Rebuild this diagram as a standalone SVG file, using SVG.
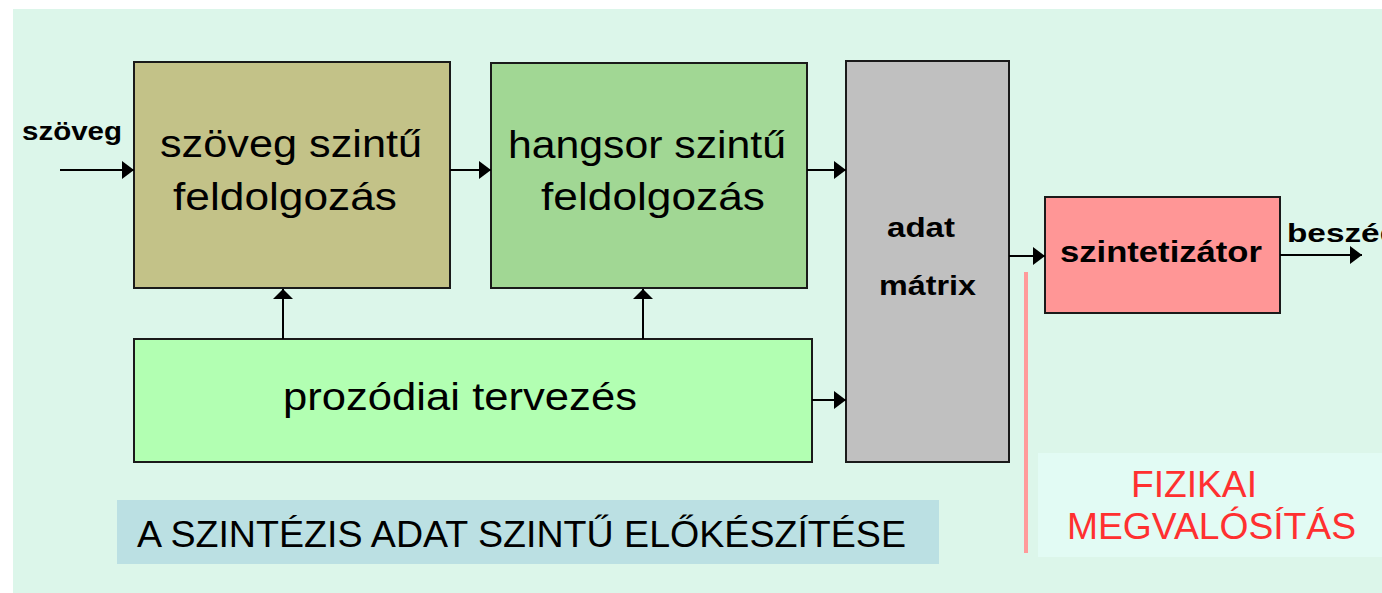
<svg xmlns="http://www.w3.org/2000/svg" width="1382" height="593" viewBox="0 0 1382 593">
<style>
.box{stroke:#1a1a1a;stroke-width:2}
.t{font-family:"Liberation Sans",Arial,sans-serif;fill:#000}
.big{font-size:38px}
.bold{font-weight:bold}
.conn{stroke:#000;stroke-width:2;fill:none}
.red{font-family:"Liberation Sans",Arial,sans-serif;font-size:36px;fill:#ff3030}
</style>
<defs>
<marker id="ah" viewBox="0 0 12 18" refX="12" refY="9" markerWidth="12" markerHeight="18" markerUnits="userSpaceOnUse" orient="auto">
<path d="M0,0 L12,9 L0,18 Z" fill="#000"/>
</marker>
<marker id="av" viewBox="0 0 10 20" refX="10" refY="10" markerWidth="10" markerHeight="20" markerUnits="userSpaceOnUse" orient="auto">
<path d="M0,0 L10,10 L0,20 Z" fill="#000"/>
</marker>
</defs>
<rect x="0" y="0" width="1382" height="593" fill="#ffffff"/>
<rect x="13" y="9" width="1369" height="584" fill="#dcf6ea"/>

<g id="caption">
<rect x="117" y="500" width="822" height="64" fill="#bbe0e3"/>
<text class="t" x="137" y="547" font-size="37" textLength="769" lengthAdjust="spacingAndGlyphs">A SZINTÉZIS ADAT SZINTŰ ELŐKÉSZÍTÉSE</text>
</g>

<g id="fizikai">
<rect x="1038" y="453" width="344" height="104" fill="#e2fbf4"/>
<line x1="1026" y1="272" x2="1026" y2="553" stroke="#ff9a9a" stroke-width="4"/>
<text class="red" x="1131" y="497" textLength="126" lengthAdjust="spacingAndGlyphs">FIZIKAI</text>
<text class="red" x="1067" y="539" textLength="289" lengthAdjust="spacingAndGlyphs">MEGVALÓSÍTÁS</text>
</g>

<g id="szoveg-szintu">
<rect class="box" x="134" y="62" width="316" height="226" fill="#c3c288"/>
<text class="t big" x="160" y="157" textLength="262" lengthAdjust="spacingAndGlyphs">szöveg szintű</text>
<text class="t big" x="173" y="210" textLength="224" lengthAdjust="spacingAndGlyphs">feldolgozás</text>
</g>

<g id="hangsor-szintu">
<rect class="box" x="491" y="63" width="316" height="225" fill="#a1d794"/>
<text class="t big" x="508" y="158" textLength="278" lengthAdjust="spacingAndGlyphs">hangsor szintű</text>
<text class="t big" x="541" y="210" textLength="224" lengthAdjust="spacingAndGlyphs">feldolgozás</text>
</g>

<g id="adat-matrix">
<rect class="box" x="846" y="61" width="163" height="401" fill="#c0c0c0"/>
<text class="t bold" x="887" y="237" font-size="28" textLength="68" lengthAdjust="spacingAndGlyphs">adat</text>
<text class="t bold" x="879" y="295" font-size="28" textLength="97" lengthAdjust="spacingAndGlyphs">mátrix</text>
</g>

<g id="prozodiai">
<rect class="box" x="134" y="339" width="678" height="123" fill="#b2ffb2"/>
<text class="t big" x="283" y="410" textLength="354" lengthAdjust="spacingAndGlyphs">prozódiai tervezés</text>
</g>

<g id="szintetizator">
<rect class="box" x="1045" y="197" width="235" height="116" fill="#ff9696"/>
<text class="t bold" x="1060" y="262" font-size="30" textLength="202" lengthAdjust="spacingAndGlyphs">szintetizátor</text>
</g>

<g id="labels">
<text class="t bold" x="22" y="140" font-size="26" textLength="100" lengthAdjust="spacingAndGlyphs">szöveg</text>
<text class="t bold" x="1287" y="242" font-size="26" textLength="113" lengthAdjust="spacingAndGlyphs">beszéd</text>
</g>

<g id="connectors">
<line class="conn" x1="60" y1="170" x2="134" y2="170" marker-end="url(#ah)"/>
<line class="conn" x1="450" y1="170" x2="491" y2="170" marker-end="url(#ah)"/>
<line class="conn" x1="807" y1="170" x2="846" y2="170" marker-end="url(#ah)"/>
<line class="conn" x1="1009" y1="256" x2="1045" y2="256" marker-end="url(#ah)"/>
<line class="conn" x1="1280" y1="255" x2="1362" y2="255" marker-end="url(#ah)"/>
<line class="conn" x1="812" y1="400" x2="846" y2="400" marker-end="url(#ah)"/>
<line class="conn" x1="283" y1="339" x2="283" y2="289" marker-end="url(#av)"/>
<line class="conn" x1="643" y1="339" x2="643" y2="289" marker-end="url(#av)"/>
</g>
</svg>
